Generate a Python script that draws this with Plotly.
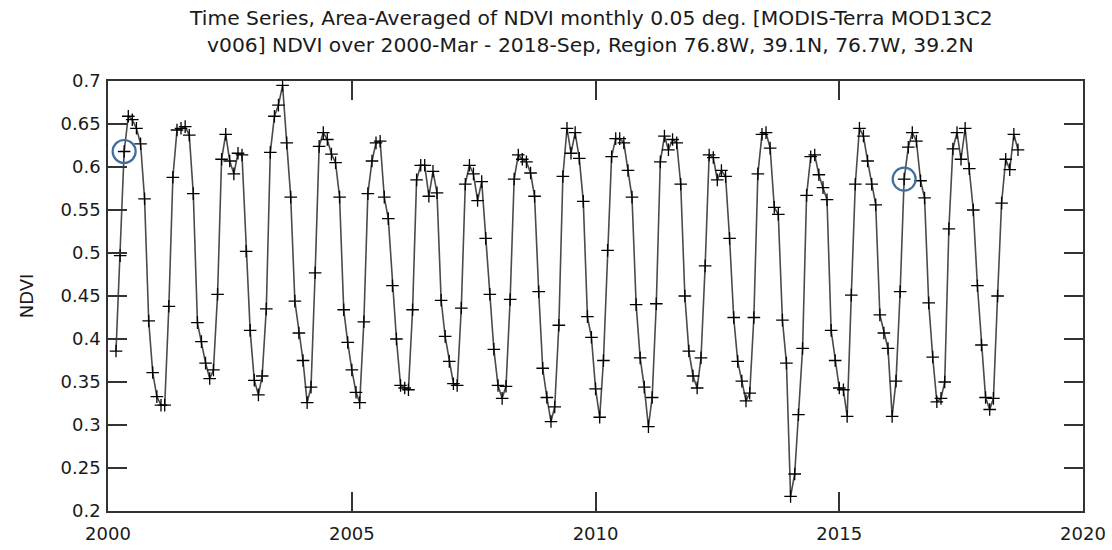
import pandas as pd
import plotly.graph_objects as go

# Monthly NDVI, 2000-Mar .. 2018-Sep
start_month = "2000-03-01"
ndvi = [
    # 2000 (Mar-Dec)
    0.386, 0.497, 0.618, 0.659, 0.655, 0.645, 0.627, 0.563, 0.421, 0.361,
    # 2001
    0.333, 0.323, 0.323, 0.438, 0.588, 0.643, 0.645, 0.647, 0.637, 0.569, 0.419, 0.397,
    # 2002
    0.372, 0.354, 0.364, 0.452, 0.609, 0.638, 0.607, 0.592, 0.616, 0.614, 0.502, 0.410,
    # 2003
    0.352, 0.335, 0.357, 0.435, 0.617, 0.659, 0.672, 0.695, 0.628, 0.565, 0.444, 0.407,
    # 2004
    0.375, 0.326, 0.344, 0.477, 0.624, 0.640, 0.632, 0.615, 0.605, 0.565, 0.434, 0.396,
    # 2005
    0.364, 0.338, 0.326, 0.420, 0.569, 0.607, 0.628, 0.630, 0.565, 0.540, 0.462, 0.400,
    # 2006
    0.346, 0.343, 0.341, 0.434, 0.585, 0.602, 0.602, 0.566, 0.595, 0.570, 0.445, 0.403,
    # 2007
    0.374, 0.348, 0.346, 0.436, 0.580, 0.602, 0.592, 0.561, 0.583, 0.517, 0.452, 0.388,
    # 2008
    0.346, 0.331, 0.345, 0.446, 0.586, 0.614, 0.609, 0.606, 0.593, 0.566, 0.455, 0.366,
    # 2009
    0.332, 0.304, 0.321, 0.416, 0.589, 0.645, 0.616, 0.640, 0.610, 0.560, 0.426, 0.402,
    # 2010
    0.342, 0.309, 0.375, 0.503, 0.612, 0.633, 0.633, 0.628, 0.596, 0.565, 0.440, 0.378,
    # 2011
    0.344, 0.298, 0.332, 0.441, 0.606, 0.636, 0.620, 0.632, 0.628, 0.580, 0.450, 0.386,
    # 2012
    0.357, 0.343, 0.378, 0.485, 0.614, 0.611, 0.585, 0.596, 0.589, 0.517, 0.425, 0.374,
    # 2013
    0.351, 0.328, 0.337, 0.425, 0.592, 0.638, 0.640, 0.622, 0.553, 0.545, 0.422, 0.372,
    # 2014
    0.217, 0.243, 0.312, 0.389, 0.567, 0.612, 0.614, 0.591, 0.576, 0.562, 0.410, 0.375,
    # 2015
    0.343, 0.341, 0.310, 0.451, 0.580, 0.645, 0.636, 0.607, 0.580, 0.556, 0.428, 0.407,
    # 2016
    0.389, 0.310, 0.351, 0.455, 0.586, 0.623, 0.640, 0.630, 0.584, 0.564, 0.442, 0.379,
    # 2017
    0.327, 0.331, 0.350, 0.528, 0.621, 0.640, 0.609, 0.645, 0.598, 0.550, 0.462, 0.393,
    # 2018 (Jan-Sep)
    0.332, 0.318, 0.331, 0.450, 0.558, 0.609, 0.597, 0.638, 0.620,
]
highlight_months = ["2000-05-01", "2016-05-01"]

title_lines = [
    "Time Series, Area-Averaged of NDVI monthly 0.05 deg. [MODIS-Terra MOD13C2",
    "v006] NDVI over 2000-Mar - 2018-Sep, Region 76.8W, 39.1N, 76.7W, 39.2N",
]
x_tick_labels = ["2000", "2005", "2010", "2015", "2020"]
y_tick_vals = [0.2, 0.25, 0.3, 0.35, 0.4, 0.45, 0.5, 0.55, 0.6, 0.65, 0.7]
y_tick_text = ["0.2", "0.25", "0.3", "0.35", "0.4", "0.45", "0.5", "0.55", "0.6", "0.65", "0.7"]

dates = pd.date_range(start_month, periods=len(ndvi), freq="MS")
series = pd.Series(ndvi, index=dates)
hl_dates = pd.to_datetime(highlight_months)
hl_vals = [series[d] for d in hl_dates]

FONT = "DejaVu Sans"
TXT = "#1a1a1a"

fig = go.Figure()
fig.add_trace(go.Scatter(
    x=dates, y=ndvi, mode="lines+markers",
    line=dict(color="#4a4a4a", width=1.6),
    marker=dict(symbol="cross-thin", size=9, color="black",
                line=dict(color="black", width=1.3)),
    showlegend=False, hoverinfo="x+y",
))
fig.add_trace(go.Scatter(
    x=hl_dates, y=hl_vals, mode="markers",
    marker=dict(symbol="circle-open", size=23, color="#3f6f9c",
                line=dict(color="#3f6f9c", width=2.2)),
    showlegend=False, hoverinfo="skip",
))

tick_dates = [pd.Timestamp(f"{t}-01-01") for t in x_tick_labels]

fig.update_xaxes(
    range=[tick_dates[0], tick_dates[-1]],
    tickvals=tick_dates, ticktext=x_tick_labels,
    ticks="inside", ticklen=19, tickwidth=1.5, tickcolor="#333",
    mirror="ticks", showline=True, linecolor="#333", linewidth=1.5,
    showgrid=False, zeroline=False, ticklabelstandoff=6, automargin=False,
    tickfont=dict(family=FONT, size=18, color=TXT),
)
fig.update_yaxes(
    range=[0.2, 0.7],
    tickvals=y_tick_vals, ticktext=y_tick_text,
    ticks="inside", ticklen=19, tickwidth=1.5, tickcolor="#333",
    mirror="ticks", showline=True, linecolor="#333", linewidth=1.5,
    showgrid=False, zeroline=False, ticklabelstandoff=2, automargin=False,
    tickfont=dict(family=FONT, size=18, color=TXT),
    title=dict(text="NDVI", font=dict(family=FONT, size=18, color=TXT), standoff=22),
)

annotations = []
for i, line in enumerate(title_lines):
    annotations.append(dict(
        text=line, xref="paper", yref="paper",
        x=0.495, y=[1.1465, 1.0837][i], xanchor="center", yanchor="middle",
        showarrow=False, font=dict(family=FONT, size=20.3, color=TXT),
    ))

fig.update_layout(
    width=1112, height=550,
    margin=dict(l=108, r=29, t=81, b=39),
    paper_bgcolor="white", plot_bgcolor="white",
    annotations=annotations,
)

fig.write_html("out.html")
